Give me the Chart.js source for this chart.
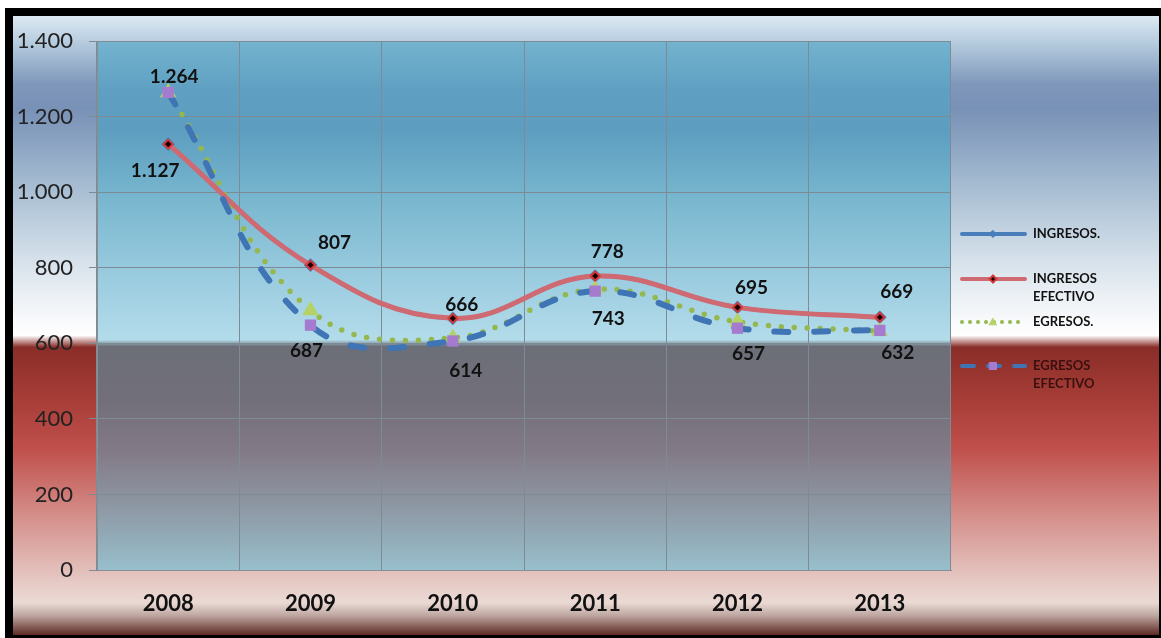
<!DOCTYPE html>
<html>
<head>
<meta charset="utf-8">
<script src="https://cdn.jsdelivr.net/npm/chart.js@4"></script>
<style>
  html, body { margin: 0; padding: 0; background: #fff; }
  #wrap { width: 1161px; height: 638px; }
</style>
</head>
<body>
<div id="wrap"><canvas id="chart" width="1161" height="638"></canvas></div>
<script>
// Chart data
const years = ['2008', '2009', '2010', '2011', '2012', '2013'];
const ingresos = [1127, 807, 666, 778, 695, 669];
const ingresosEfectivo = [1127, 807, 666, 778, 695, 669];
const egresos = [1264, 687, 614, 743, 657, 632];
const egresosEfectivo = [1264, 648, 606, 738, 640, 634];
const yTicks = [0, 200, 400, 600, 800, 1000, 1200, 1400];

const FONT = 'Lato, "Open Sans", sans-serif';

// Number format with dot thousands separator (1.264)
function fmt(v) {
    return v.toString().replace(/\B(?=(\d{3})+(?!\d))/g, '.');
}

// Where each data label sits relative to its point (dx, dy)
const labelOffsets = {
    1: [[-13, 27], [24, -22], [9, -13], [12, -24], [14, -20], [17, -25]],
    2: [[6, -16], [-4, 40], [13, 33], [13, 30], [11, 32], [18, 22]]
};

// Background: black frame, outer gradient and plot area gradient
const backgroundPlugin = {
    id: 'bg',
    beforeDraw(chart) {
        const ctx = chart.ctx;
        const a = chart.chartArea;
        ctx.save();
        ctx.fillStyle = '#fff';
        ctx.fillRect(0, 0, chart.width, chart.height);
        ctx.fillStyle = '#000';
        ctx.fillRect(5, 8, chart.width - 5, chart.height - 8);

        const g = ctx.createLinearGradient(0, 16, 0, 635);
        g.addColorStop(0, '#dde9f3');
        g.addColorStop(0.047, '#b2c9dc');
        g.addColorStop(0.11, '#7f97bb');
        g.addColorStop(0.15, '#7891b6');
        g.addColorStop(0.25, '#9cb4cc');
        g.addColorStop(0.38, '#d0dde8');
        g.addColorStop(0.46, '#eef2f6');
        g.addColorStop(0.516, '#ffffff');
        g.addColorStop(0.535, '#8a2d28');
        g.addColorStop(0.62, '#a73d37');
        g.addColorStop(0.70, '#c0504c');
        g.addColorStop(0.81, '#d5908c');
        g.addColorStop(0.927, '#e8d0cb');
        g.addColorStop(0.948, '#ead9d4');
        g.addColorStop(0.968, '#c0a8a2');
        g.addColorStop(1, '#5e2a25');
        ctx.fillStyle = g;
        ctx.fillRect(13, 16, chart.width - 15, 619);

        const p = ctx.createLinearGradient(0, a.top, 0, a.bottom);
        p.addColorStop(0, '#74b4cf');
        p.addColorStop(0.093, '#5f9fc2');
        p.addColorStop(0.17, '#5d9ec0');
        p.addColorStop(0.30, '#79b7cf');
        p.addColorStop(0.45, '#9bcce0');
        p.addColorStop(0.565, '#b3dcea');
        p.addColorStop(0.577, '#6c6f78');
        p.addColorStop(0.68, '#726f7a');
        p.addColorStop(0.775, '#827a86');
        p.addColorStop(0.887, '#8e9aa6');
        p.addColorStop(1, '#98bfcc');
        ctx.fillStyle = p;
        ctx.fillRect(a.left, a.top, a.right - a.left, a.bottom - a.top);
        ctx.restore();
    }
};

// Data labels drawn next to the points
const labelPlugin = {
    id: 'labels',
    afterDatasetsDraw(chart) {
        const ctx = chart.ctx;
        ctx.save();
        ctx.font = 'bold 19px ' + FONT;
        ctx.fillStyle = '#111';
        ctx.textAlign = 'center';
        ctx.textBaseline = 'middle';
        Object.keys(labelOffsets).forEach(idx => {
            const meta = chart.getDatasetMeta(+idx);
            const values = chart.data.datasets[idx].data;
            meta.data.forEach((pt, i) => {
                const off = labelOffsets[idx][i];
                ctx.fillText(fmt(values[i]), pt.x + off[0], pt.y + off[1]);
            });
        });
        ctx.restore();
    }
};

function drawMarker(ctx, style, x, y, r) {
    if (style === 'rectRot') {
        ctx.moveTo(x, y - r); ctx.lineTo(x + r, y); ctx.lineTo(x, y + r); ctx.lineTo(x - r, y); ctx.closePath();
    } else if (style === 'triangle') {
        ctx.moveTo(x, y - r); ctx.lineTo(x + r, y + r * 0.8); ctx.lineTo(x - r, y + r * 0.8); ctx.closePath();
    } else if (style === 'rect') {
        ctx.rect(x - r, y - r, 2 * r, 2 * r);
    } else {
        ctx.arc(x, y, r, 0, Math.PI * 2);
    }
}

// Legend on the right, drawn by hand
const legendPlugin = {
    id: 'sideLegend',
    afterDraw(chart) {
        const ctx = chart.ctx;
        const rows = [
            { y: 234, lines: ['INGRESOS.'] },
            { y: 279, lines: ['INGRESOS', 'EFECTIVO'] },
            { y: 322, lines: ['EGRESOS.'] },
            { y: 366, lines: ['EGRESOS', 'EFECTIVO'] }
        ];
        const dashes = [[], [], [0, 8], [12, 14]];
        ctx.save();
        rows.forEach((row, i) => {
            const ds = chart.data.datasets[i];
            const x0 = 962, x1 = 1025, xm = 993;
            ctx.beginPath();
            ctx.setLineDash(dashes[i]);
            ctx.lineCap = ds.borderCapStyle || 'round';
            ctx.lineWidth = Math.min(ds.borderWidth, 4);
            ctx.strokeStyle = ds.borderColor;
            ctx.moveTo(x0, row.y);
            ctx.lineTo(x1, row.y);
            ctx.stroke();
            ctx.setLineDash([]);
            ctx.fillStyle = ds.pointBackgroundColor;
            ctx.strokeStyle = ds.pointBorderColor;
            ctx.lineWidth = ds.pointBorderWidth || 1;
            ctx.beginPath();
            drawMarker(ctx, ds.pointStyle, xm, row.y, 3.5);
            ctx.fill();
            ctx.stroke();

            ctx.font = 'bold 13px ' + FONT;
            ctx.fillStyle = i === 3 ? '#3a1010' : '#111';
            ctx.textAlign = 'left';
            ctx.textBaseline = 'middle';
            row.lines.forEach((t, k) => ctx.fillText(t, 1033, row.y + k * 18));
        });
        ctx.restore();
    }
};

new Chart(document.getElementById('chart'), {
    type: 'line',
    data: {
        labels: years,
        datasets: [
            {
                label: 'INGRESOS.',
                data: ingresos,
                borderColor: '#4a7ebb',
                borderWidth: 4,
                pointStyle: 'rectRot',
                pointRadius: 4,
                pointBackgroundColor: '#4a7ebb',
                pointBorderColor: '#4a7ebb',
                tension: 0.4,
                order: 4
            },
            {
                label: 'INGRESOS EFECTIVO',
                data: ingresosEfectivo,
                borderColor: '#cf6a72',
                borderWidth: 5,
                pointStyle: 'rectRot',
                pointRadius: 4.5,
                pointBackgroundColor: '#1a0000',
                pointBorderColor: '#d23a3a',
                pointBorderWidth: 2,
                tension: 0.4,
                order: 1
            },
            {
                label: 'EGRESOS.',
                data: egresos,
                borderColor: '#94b84e',
                borderWidth: 5.5,
                borderDash: [0, 13],
                borderCapStyle: 'round',
                pointStyle: 'triangle',
                pointRadius: 4,
                pointBackgroundColor: '#b5d266',
                pointBorderColor: '#b5d266',
                tension: 0.4,
                order: 3
            },
            {
                label: 'EGRESOS EFECTIVO',
                data: egresosEfectivo,
                borderColor: '#3f74b5',
                borderWidth: 6,
                borderDash: [14, 26],
                borderCapStyle: 'round',
                pointStyle: 'rect',
                pointRadius: 8,
                pointBackgroundColor: '#a57bd0',
                pointBorderColor: '#a57bd0',
                pointBorderWidth: 0,
                tension: 0.4,
                order: 0
            }
        ]
    },
    options: {
        responsive: false,
        animation: false,
        devicePixelRatio: 1,
        layout: { padding: { left: 0, right: 210, top: 41, bottom: 0 } },
        plugins: {
            legend: { display: false },
            tooltip: { enabled: false }
        },
        scales: {
            x: {
                offset: true,
                grid: { offset: true, color: '#7d8b95', drawTicks: false },
                border: { color: '#8a8f95' },
                ticks: {
                    color: '#111',
                    font: { family: FONT, size: 22, weight: 'bold' },
                    padding: 21
                },
                afterFit(scale) { scale.height = 68; }
            },
            y: {
                min: 0,
                max: 1400,
                afterBuildTicks(scale) { scale.ticks = yTicks.map(v => ({ value: v })); },
                grid: { color: '#7d8b95', tickLength: 8 },
                border: { color: '#8a8f95' },
                ticks: {
                    color: '#222',
                    font: { family: FONT, size: 22 },
                    padding: 16,
                    callback: v => fmt(v)
                },
                afterFit(scale) { scale.width = 97; }
            }
        }
    },
    plugins: [backgroundPlugin, labelPlugin, legendPlugin]
});
</script>
</body>
</html>
